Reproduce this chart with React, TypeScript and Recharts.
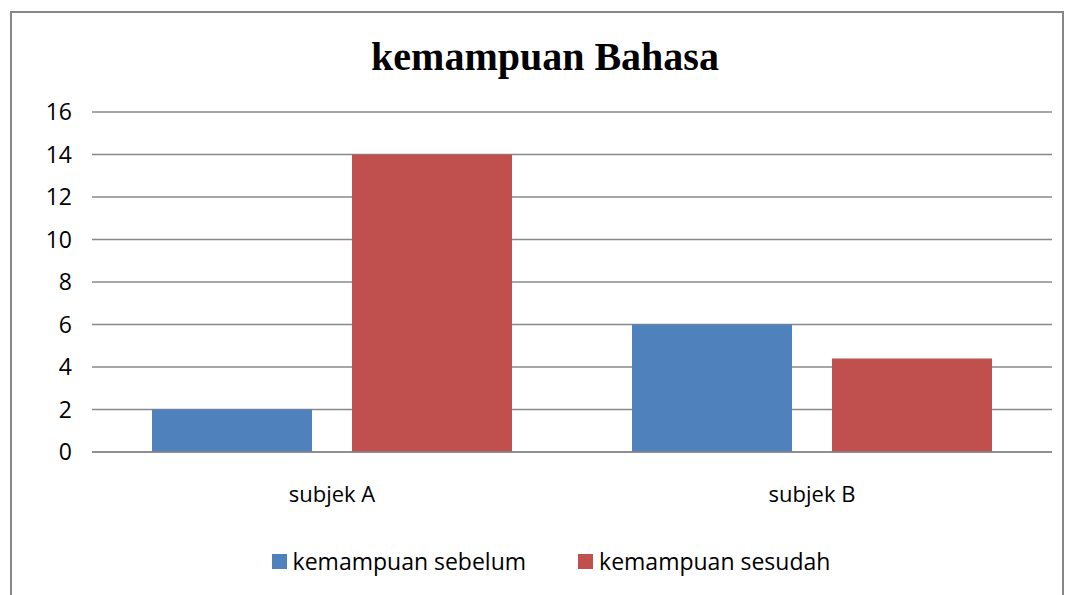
import { BarChart, Bar, XAxis, YAxis, CartesianGrid, Legend } from 'recharts';

const categories = ['subjek A', 'subjek B'];
const sebelum = [2, 6];
const sesudah = [14, 4.4];
const yTicks = [0, 2, 4, 6, 8, 10, 12, 14, 16];

const data = categories.map((name, i) => ({
  name,
  sebelum: sebelum[i],
  sesudah: sesudah[i],
}));

const FONT = '"Open Sans", "Noto Sans", sans-serif';

const LegendContent = ({ payload }: any) => (
  <div style={{ display: 'flex', justifyContent: 'center', gap: 52, paddingTop: 33, paddingLeft: 18, fontFamily: FONT, fontSize: 23, color: '#000' }}>
    {(payload || []).map((p: any) => (
      <div key={p.value} style={{ display: 'flex', alignItems: 'center' }}>
        <span style={{ width: 15, height: 15, background: p.color, display: 'inline-block', marginRight: 6 }} />
        <span>{p.value}</span>
      </div>
    ))}
  </div>
);

export default function App() {
  return (
    <div style={{ position: 'absolute', left: 0, top: 0, width: 1067, height: 595, background: '#fff', overflow: 'hidden' }}>
      {/* chart frame */}
      <div style={{ position: 'absolute', left: 10, top: 11, width: 1050, height: 600, border: '2px solid #878787' }} />
      <div
        style={{
          position: 'absolute',
          top: 33,
          left: 0,
          width: 1090,
          textAlign: 'center',
          fontFamily: '"Liberation Serif", "Times New Roman", serif',
          fontWeight: 'bold',
          fontSize: 40,
        }}
      >
        kemampuan Bahasa
      </div>
      <div style={{ position: 'absolute', left: 0, top: 0 }}>
        <BarChart
          width={1067}
          height={595}
          data={data}
          margin={{ top: 112, right: 15, left: 32, bottom: 23 }}
          barCategoryGap="12.5%"
          barGap={40}
        >
          <CartesianGrid vertical={false} stroke="#888" strokeWidth={1.5} />
          <YAxis
            domain={[0, 16]}
            ticks={yTicks}
            width={60}
            axisLine={false}
            tickLine={false}
            interval={0}
            tick={{ fill: '#000', fontSize: 23, fontFamily: FONT }}
            tickMargin={14}
          />
          <XAxis
            dataKey="name"
            axisLine={{ stroke: '#888', strokeWidth: 1.5 }}
            tickLine={false}
            height={60}
            tick={{ fill: '#000', fontSize: 22, fontFamily: FONT }}
            tickMargin={28}
          />
          <Legend verticalAlign="bottom" height={60} content={<LegendContent />} />
          <Bar dataKey="sebelum" name="kemampuan sebelum" fill="#4F81BD" isAnimationActive={false} />
          <Bar dataKey="sesudah" name="kemampuan sesudah" fill="#C0504D" isAnimationActive={false} />
        </BarChart>
      </div>
    </div>
  );
}
